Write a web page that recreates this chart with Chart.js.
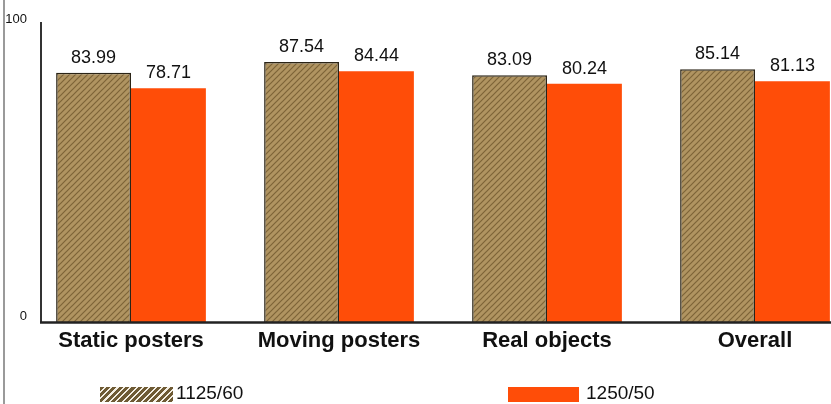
<!DOCTYPE html>
<html>
<head>
<meta charset="utf-8">
<script src="https://cdn.jsdelivr.net/npm/chart.js@4.4.0/dist/chart.umd.min.js"></script>
<style>
  html, body { margin: 0; padding: 0; background: #fff; overflow: hidden; }
  #wrap { position: relative; width: 831px; height: 404px; overflow: hidden; }
  #edge { position: absolute; left: 3px; top: 0; width: 2px; height: 404px; background: #9a9a9a; }
  .key { position: absolute; top: 387px; height: 15px; }
  .txt { position: absolute; top: 382px; font: 19px "Liberation Sans", Arial, sans-serif; color: #111; }
</style>
</head>
<body>
<div id="wrap">
  <canvas id="chart" width="859" height="404"></canvas>
  <div id="edge"></div>
  <div class="key" id="key1" style="left:100px;width:73px;"></div>
  <div class="txt" style="left:176px;">1125/60</div>
  <div class="key" id="key2" style="left:508px;width:71px;background:#ff4d08;"></div>
  <div class="txt" style="left:586px;">1250/50</div>
</div>
<script>
  // --- data ---
  const categories = ["Static posters", "Moving posters", "Real objects", "Overall"];
  const values1125 = [83.99, 87.54, 83.09, 85.14];
  const values1250 = [78.71, 84.44, 80.24, 81.13];
  const yTicks = [0, 100];

  // hatched brown fill for the 1125/60 bars
  function makeHatch(base, stripe) {
    const c = document.createElement("canvas");
    c.width = 6;
    c.height = 6;
    const g = c.getContext("2d");
    g.fillStyle = base;
    g.fillRect(0, 0, 6, 6);
    g.strokeStyle = stripe;
    g.lineWidth = 1.2;
    g.beginPath();
    g.moveTo(0, 6); g.lineTo(6, 0);
    g.moveTo(-3, 3); g.lineTo(3, -3);
    g.moveTo(3, 9); g.lineTo(9, 3);
    g.stroke();
    return c;
  }

  const ctx = document.getElementById("chart").getContext("2d");
  const hatch = ctx.createPattern(makeHatch("#b09461", "#7d6438"), "repeat");

  document.getElementById("key1").style.background =
    "repeating-linear-gradient(135deg, #6e5a34 0 3px, #f4efe4 3px 4.5px)";

  // axis lines drawn where the original has them
  const axisLines = {
    id: "axisLines",
    afterDraw(chart) {
      const c = chart.ctx;
      const y = chart.scales.y;
      const x0 = chart.chartArea.left + 14;
      c.save();
      c.strokeStyle = "#333";
      c.lineWidth = 2;
      c.beginPath();
      c.moveTo(x0, y.getPixelForValue(100) - 3);
      c.lineTo(x0, y.getPixelForValue(0));
      c.stroke();
      c.strokeStyle = "#222";
      c.lineWidth = 2.5;
      c.beginPath();
      c.moveTo(x0 - 1, y.getPixelForValue(0));
      c.lineTo(chart.chartArea.right, y.getPixelForValue(0));
      c.stroke();
      c.restore();
    },
  };

  // value labels above each bar
  const valueLabels = {
    id: "valueLabels",
    afterDatasetsDraw(chart) {
      const c = chart.ctx;
      c.save();
      c.font = '18px "Liberation Sans", Arial, sans-serif';
      c.fillStyle = "#111";
      c.textAlign = "center";
      c.textBaseline = "alphabetic";
      chart.data.datasets.forEach(function (ds, i) {
        chart.getDatasetMeta(i).data.forEach(function (bar, j) {
          c.fillText(ds.data[j].toFixed(2), bar.x, bar.y - 10);
        });
      });
      c.restore();
    },
  };

  new Chart(ctx, {
    type: "bar",
    data: {
      labels: categories,
      datasets: [
        {
          label: "1125/60",
          data: values1125,
          backgroundColor: hatch,
          borderColor: "#2b2416",
          borderWidth: 1.5,
          borderSkipped: "bottom",
        },
        {
          label: "1250/50",
          data: values1250,
          backgroundColor: "#ff4d08",
          borderWidth: 0,
        },
      ],
    },
    options: {
      responsive: false,
      animation: false,
      layout: { padding: { top: 25, right: 0, bottom: 45, left: 0 } },
      plugins: {
        legend: { display: false },
        tooltip: { enabled: false },
      },
      datasets: {
        bar: { categoryPercentage: 0.72, barPercentage: 1.0 },
      },
      scales: {
        x: {
          grid: { display: false, drawTicks: false },
          border: { display: false },
          ticks: {
            padding: 5,
            color: "#111",
            font: { family: '"Liberation Sans", Arial, sans-serif', size: 22, weight: "bold" },
          },
        },
        y: {
          min: 0,
          max: 100,
          afterBuildTicks(scale) {
            scale.ticks = yTicks.map(function (v) { return { value: v }; });
          },
          afterFit(scale) {
            scale.width = 27;
          },
          grid: { display: false, drawTicks: false },
          border: { display: false },
          ticks: {
            padding: 0,
            labelOffset: -6,
            color: "#111",
            font: { family: '"Liberation Sans", Arial, sans-serif', size: 13 },
          },
        },
      },
    },
    plugins: [axisLines, valueLabels],
  });
</script>
</body>
</html>
